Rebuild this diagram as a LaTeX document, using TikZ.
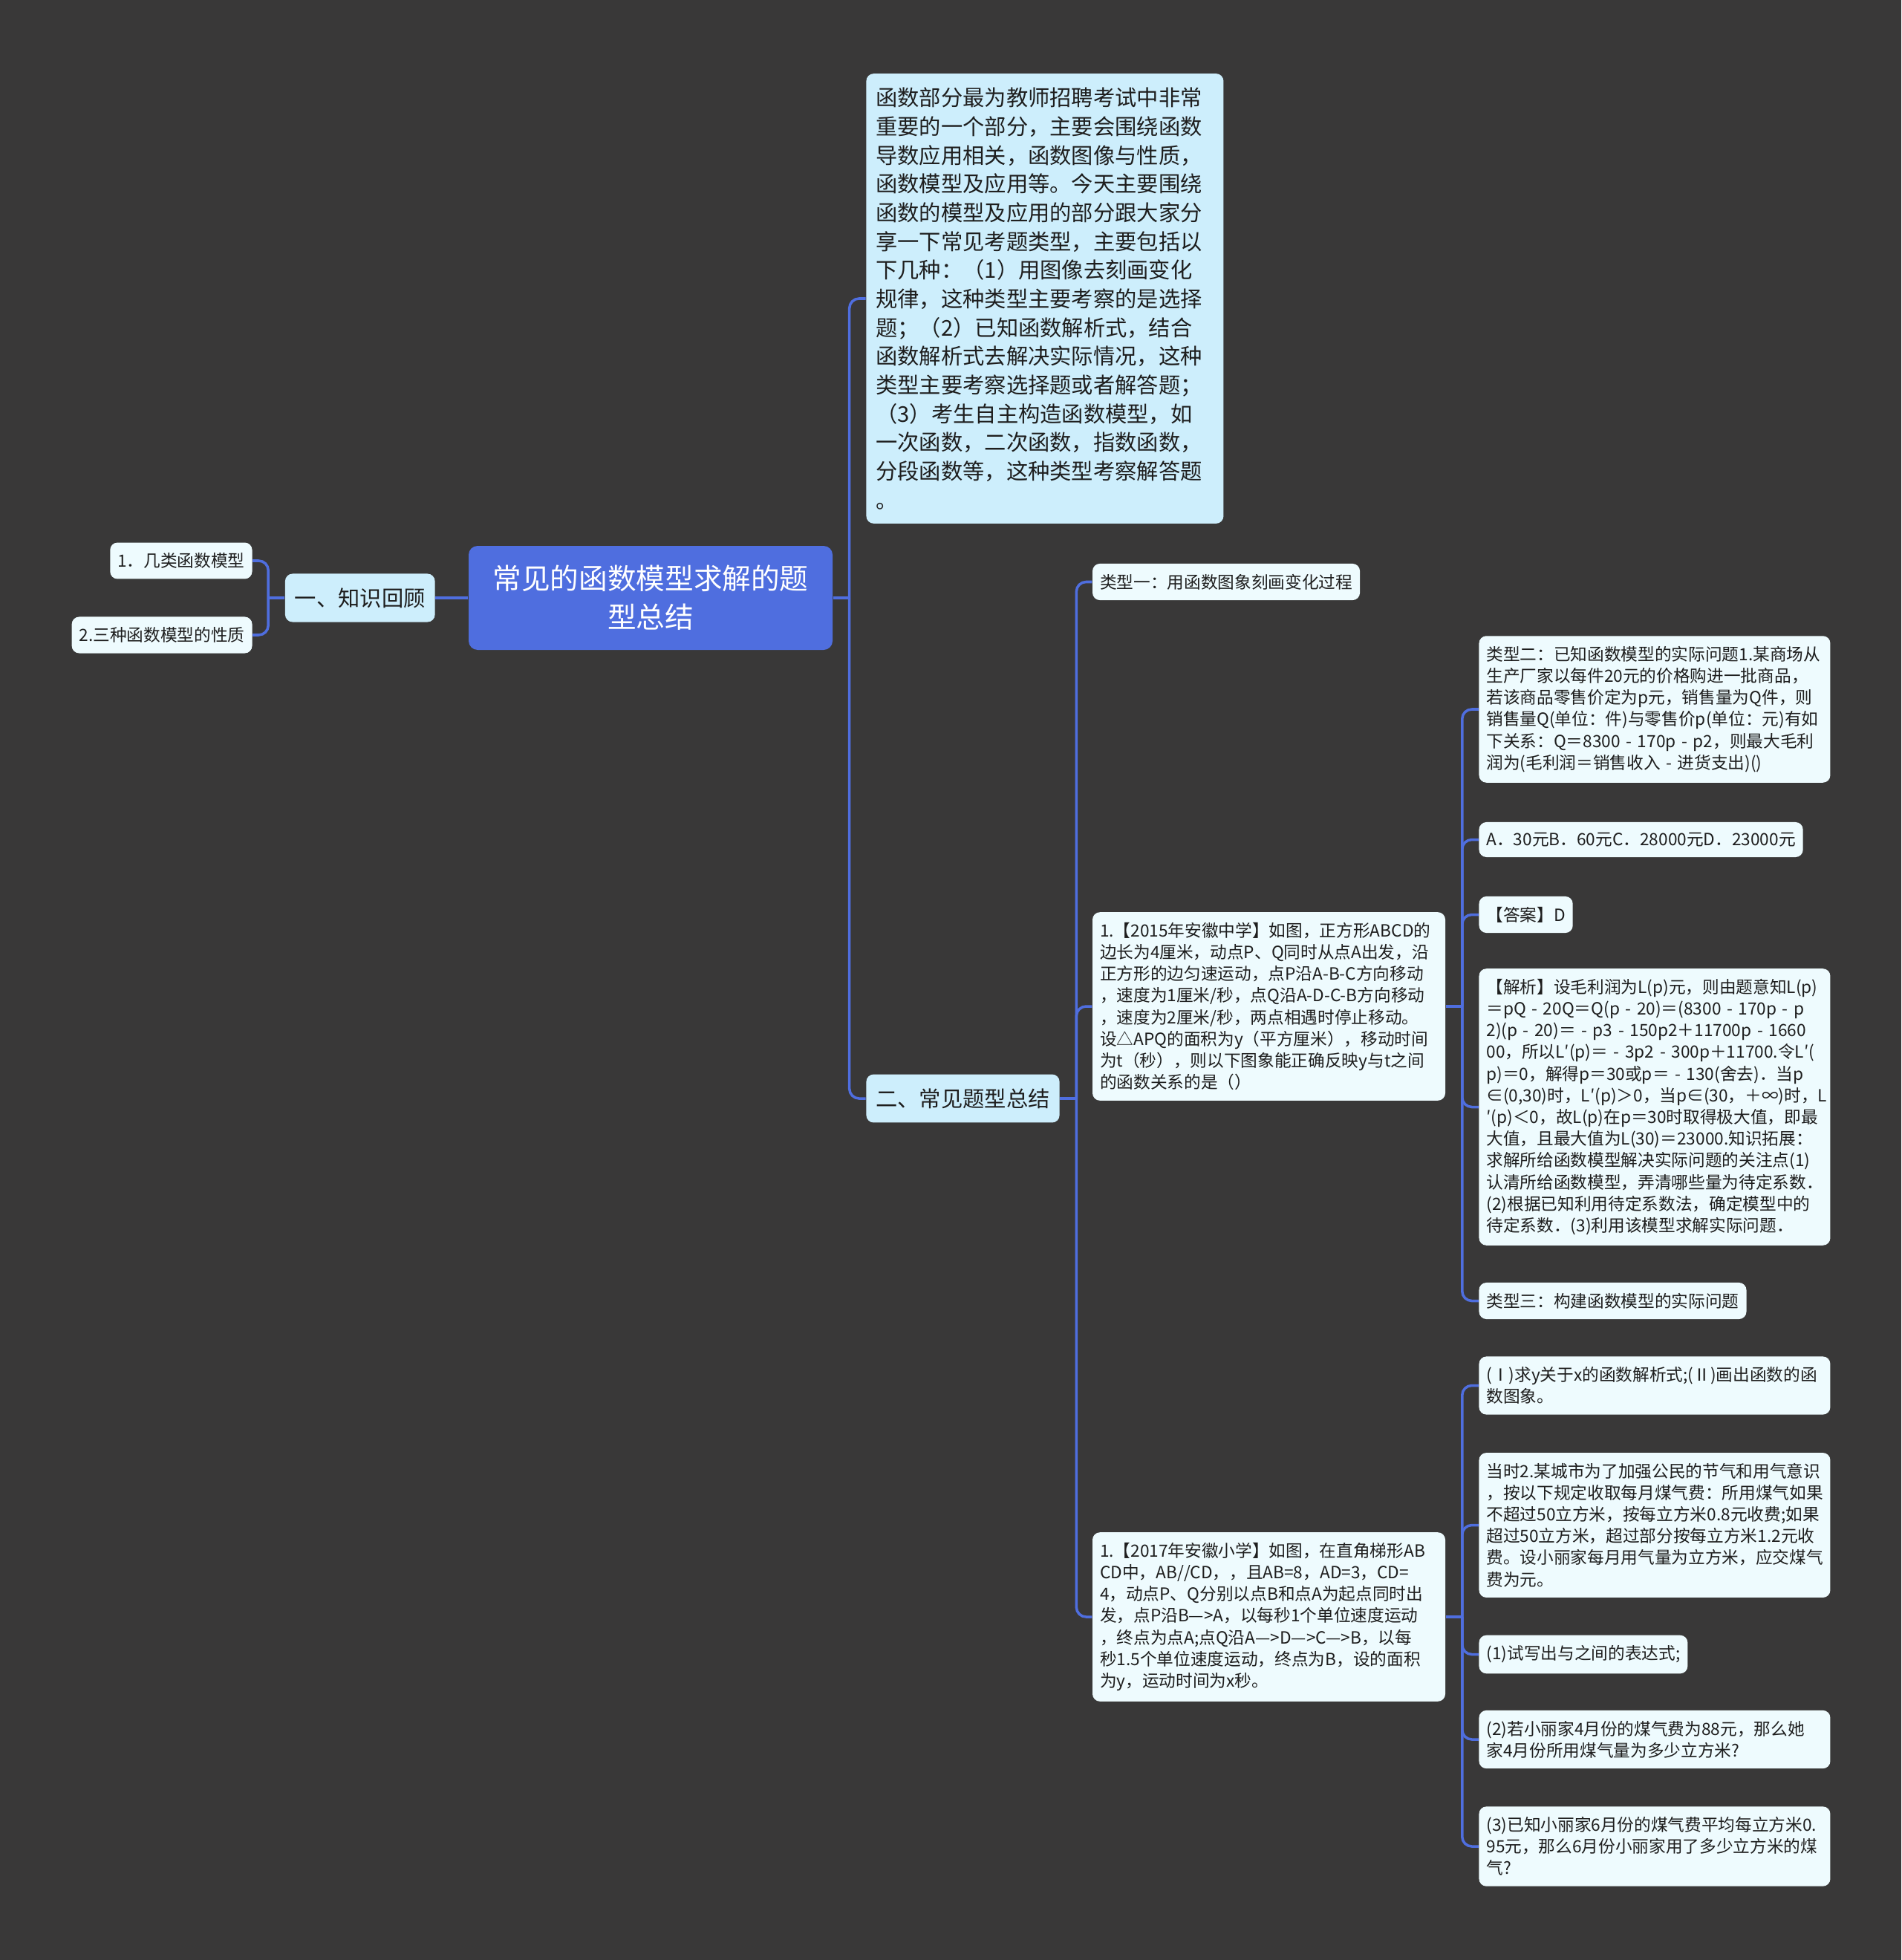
\documentclass[tikz,border=0pt]{standalone}
\usepackage{fontspec}
\setmainfont{Noto Sans CJK SC}
\usetikzlibrary{positioning}

\definecolor{bgdark}{HTML}{393838}
\definecolor{rootblue}{HTML}{4F6EDF}
\definecolor{topicblue}{HTML}{CDEEFC}
\definecolor{leafwhite}{HTML}{EEFBFE}
\definecolor{inkdark}{HTML}{1E1E1E}

\begin{document}
\begin{tikzpicture}[
    font=\fontsize{6.45pt}{8.3pt}\selectfont,
    rootbox/.style={fill=rootblue, rounded corners=0.12cm, text=white, align=center, font=\fontsize{11pt}{14.8pt}\selectfont, minimum width=4.9cm, minimum height=1.4cm},
    topic/.style={fill=topicblue, rounded corners=0.1cm, text=inkdark, font=\fontsize{8.33pt}{11pt}\selectfont, inner xsep=0.13cm, inner ysep=0.19cm},
    leaf/.style={fill=leafwhite, rounded corners=0.1cm, text=inkdark, inner xsep=0.1cm, inner ysep=0.14cm},
    leafwide/.style={leaf, text width=4.53cm, align=left},
    link/.style={draw=rootblue, line width=1pt, rounded corners=0.13cm}
]

% Background
\fill[bgdark] (0,0) rectangle (25.6,-26.39);

% Root
\node[rootbox] (root) at (8.76,-8.05) {常见的函数模型求解的题\\型总结};

% Left Branch
\node[topic, left=0.44cm of root] (review) {一、知识回顾};
\node[leaf, left=0.43cm of review, yshift=0.5cm] (models) {1．几类函数模型};
\node[leaf, left=0.43cm of review, yshift=-0.5cm] (props) {2.三种函数模型的性质};

% Right Branch
\node[topic, text width=4.55cm, align=left, right=0.44cm of root, yshift=4.03cm] (intro) {函数部分最为教师招聘考试中非常\\
重要的一个部分，主要会围绕函数\\
导数应用相关，函数图像与性质，\\
函数模型及应用等。今天主要围绕\\
函数的模型及应用的部分跟大家分\\
享一下常见考题类型，主要包括以\\
下几种：（1）用图像去刻画变化\\
规律，这种类型主要考察的是选择\\
题；（2）已知函数解析式，结合\\
函数解析式去解决实际情况，这种\\
类型主要考察选择题或者解答题；\\
（3）考生自主构造函数模型，如\\
一次函数，二次函数，指数函数，\\
分段函数等，这种类型考察解答题\\
。};
\node[topic, right=0.44cm of root, yshift=-6.74cm] (types) {二、常见题型总结};

% Question Types
\node[leaf, right=0.43cm of types, yshift=6.955cm] (type1) {类型一：用函数图象刻画变化过程};
\node[leafwide, text width=4.55cm, right=0.43cm of types, yshift=1.24cm] (q2015) {1.【2015年安徽中学】如图，正方形ABCD的\\
边长为4厘米，动点P、Q同时从点A出发，沿\\
正方形的边匀速运动，点P沿A-B-C方向移动\\
，速度为1厘米/秒，点Q沿A-D-C-B方向移动\\
，速度为2厘米/秒，两点相遇时停止移动。\\
设△APQ的面积为y（平方厘米），移动时间\\
为t（秒），则以下图象能正确反映y与t之间\\
的函数关系的是（）};
\node[leafwide, text width=4.55cm, right=0.43cm of types, yshift=-6.98cm] (q2017) {1.【2017年安徽小学】如图，在直角梯形AB\\
CD中，AB//CD，，且AB=8，AD=3，CD=\\
4，动点P、Q分别以点B和点A为起点同时出\\
发，点P沿B—>A，以每秒1个单位速度运动\\
，终点为点A;点Q沿A—>D—>C—>B，以每\\
秒1.5个单位速度运动，终点为B，设的面积\\
为y，运动时间为x秒。};

% First Question
\node[leafwide, right=0.44cm of q2015, yshift=4.0cm] (type2) {类型二：已知函数模型的实际问题1.某商场从\\
生产厂家以每件20元的价格购进一批商品，\\
若该商品零售价定为p元，销售量为Q件，则\\
销售量Q(单位：件)与零售价p(单位：元)有如\\
下关系：Q＝8300~-~170p~-~p2，则最大毛利\\
润为(毛利润＝销售收入~-~进货支出)()};
\node[leaf, right=0.44cm of q2015, yshift=2.245cm] (choices) {A．30元B．60元C．28000元D．23000元};
\node[leaf, right=0.44cm of q2015, yshift=1.235cm] (answer) {【答案】D};
\node[leafwide, right=0.44cm of q2015, yshift=-1.355cm] (analysis) {【解析】设毛利润为L(p)元，则由题意知L(p)\\
＝pQ~-~20Q＝Q(p~-~20)＝(8300~-~170p~-~p\\
2)(p~-~20)＝~-~p3~-~150p2＋11700p~-~1660\\
00，所以L′(p)＝~-~3p2~-~300p＋11700.令L′(\\
p)＝0，解得p＝30或p＝~-~130(舍去)．当p\\
∈(0,30)时，L′(p)＞0，当p∈(30，＋∞)时，L\\
′(p)＜0，故L(p)在p＝30时取得极大值，即最\\
大值，且最大值为L(30)＝23000.知识拓展：\\
求解所给函数模型解决实际问题的关注点(1)\\
认清所给函数模型，弄清哪些量为待定系数．\\
(2)根据已知利用待定系数法，确定模型中的\\
待定系数．(3)利用该模型求解实际问题．};
\node[leaf, right=0.44cm of q2015, yshift=-3.965cm] (type3) {类型三：构建函数模型的实际问题};

% Second Question
\node[leafwide, right=0.44cm of q2017, yshift=3.115cm] (partI) {(Ⅰ)求y关于x的函数解析式;(Ⅱ)画出函数的函\\
数图象。};
\node[leafwide, right=0.44cm of q2017, yshift=1.235cm] (gasrule) {当时2.某城市为了加强公民的节气和用气意识\\
，按以下规定收取每月煤气费：所用煤气如果\\
不超过50立方米，按每立方米0.8元收费;如果\\
超过50立方米，超过部分按每立方米1.2元收\\
费。设小丽家每月用气量为立方米，应交煤气\\
费为元。};
\node[leaf, right=0.44cm of q2017, yshift=-0.505cm] (part1) {(1)试写出与之间的表达式;};
\node[leafwide, right=0.44cm of q2017, yshift=-1.65cm] (part2) {(2)若小丽家4月份的煤气费为88元，那么她\\
家4月份所用煤气量为多少立方米?};
\node[leafwide, right=0.44cm of q2017, yshift=-3.09cm] (part3) {(3)已知小丽家6月份的煤气费平均每立方米0.\\
95元，那么6月份小丽家用了多少立方米的煤\\
气?};

% Junctions
\coordinate (rootj) at ([xshift=0.22cm]root.east);
\coordinate (reviewj) at ([xshift=-0.22cm]review.west);
\coordinate (typesj) at ([xshift=0.22cm]types.east);
\coordinate (q2015j) at ([xshift=0.22cm]q2015.east);
\coordinate (q2017j) at ([xshift=0.22cm]q2017.east);

% Connections
% Root -> branches
\draw[link] (root.west) -- (review.east);
\draw[link] (root.east) -- (rootj);
\draw[link] (rootj) |- (intro.west);
\draw[link] (rootj) |- (types.west);

% Review -> leaves
\draw[link] (review.west) -- (reviewj);
\draw[link] (reviewj) |- (models.east);
\draw[link] (reviewj) |- (props.east);

% Types -> questions
\draw[link] (types.east) -- (typesj);
\draw[link] (typesj) |- (type1.west);
\draw[link] (typesj) |- (q2015.west);
\draw[link] (typesj) |- (q2017.west);

% First question -> details
\draw[link] (q2015.east) -- (q2015j);
\draw[link] (q2015j) |- (type2.west);
\draw[link] (q2015j) |- (choices.west);
\draw[link] (q2015j) |- (answer.west);
\draw[link] (q2015j) |- (analysis.west);
\draw[link] (q2015j) |- (type3.west);

% Second question -> details
\draw[link] (q2017.east) -- (q2017j);
\draw[link] (q2017j) |- (partI.west);
\draw[link] (q2017j) |- (gasrule.west);
\draw[link] (q2017j) |- (part1.west);
\draw[link] (q2017j) |- (part2.west);
\draw[link] (q2017j) |- (part3.west);

\end{tikzpicture}
\end{document}
